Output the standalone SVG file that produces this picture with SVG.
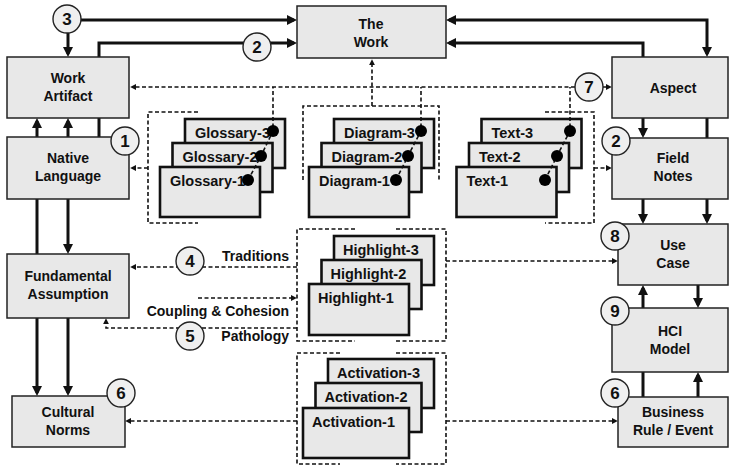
<svg xmlns="http://www.w3.org/2000/svg" width="731" height="467" viewBox="0 0 731 467">
  <style>
    .box { fill: #e8e8e8; stroke: #222; stroke-width: 1.5; }
    .card { fill: #e8e8e8; stroke: #111; stroke-width: 2.6; }
    .lbl { font-family: "Liberation Sans", Arial, sans-serif; font-weight: bold; font-size: 14px; fill: #111; text-anchor: middle; }
    .clbl { font-family: "Liberation Sans", Arial, sans-serif; font-weight: bold; font-size: 14.5px; fill: #111; }
    .side { font-family: "Liberation Sans", Arial, sans-serif; font-weight: bold; font-size: 14px; fill: #111; text-anchor: end; }
    .num { font-family: "Liberation Sans", Arial, sans-serif; font-weight: bold; font-size: 17px; fill: #111; text-anchor: middle; }
    .badge { fill: #efefef; stroke: #222; stroke-width: 1.4; }
    .solid { fill: none; stroke: #111; stroke-width: 3; }
    .dash { fill: none; stroke: #111; stroke-width: 1.6; stroke-dasharray: 4 2.5; }
    .dot { fill: #000; }
  </style>
  <defs>
    <marker id="ah" viewBox="0 0 10 10" refX="7" refY="5" markerWidth="10" markerHeight="10" markerUnits="userSpaceOnUse" orient="auto-start-reverse">
      <path d="M0,0 L10,5 L0,10 z" fill="#111"/>
    </marker>
    <marker id="dh" viewBox="0 0 10 10" refX="7" refY="5" markerWidth="6" markerHeight="6" markerUnits="userSpaceOnUse" orient="auto-start-reverse">
      <path d="M0,0 L10,5 L0,10 z" fill="#111"/>
    </marker>
  </defs>

  <!-- connectors -->
  <g id="connectors">
    <!-- solid links, left column -->
    <path class="solid" d="M81,20 H294" marker-end="url(#ah)"/>
    <path class="solid" d="M68,33 V54" marker-end="url(#ah)"/>
    <path class="solid" d="M99,137 V43 H294" marker-end="url(#ah)"/>
    <path class="solid" d="M37,137 V121" marker-end="url(#ah)"/>
    <path class="solid" d="M68,137 V121" marker-end="url(#ah)"/>
    <path class="solid" d="M37,199 V393" marker-end="url(#ah)"/>
    <path class="solid" d="M68,199 V251" marker-end="url(#ah)"/>
    <path class="solid" d="M68,318 V393" marker-end="url(#ah)"/>
    <!-- solid links, right column -->
    <path class="solid" d="M449,20 H707 V54" marker-start="url(#ah)" marker-end="url(#ah)"/>
    <path class="solid" d="M643,57 V43 H449" marker-end="url(#ah)"/>
    <path class="solid" d="M643,118 V135" marker-end="url(#ah)"/>
    <path class="solid" d="M707,118 V221" marker-end="url(#ah)"/>
    <path class="solid" d="M643,199 V221" marker-end="url(#ah)"/>
    <path class="solid" d="M643,397 V288" marker-end="url(#ah)"/>
    <path class="solid" d="M698,285 V305" marker-end="url(#ah)"/>
    <path class="solid" d="M698,397 V375" marker-end="url(#ah)"/>

    <!-- dashed trace bus -->
    <path class="dash" d="M575,87 H132" marker-end="url(#dh)"/>
    <path class="dash" d="M603,87 H610" marker-end="url(#dh)"/>
    <path class="dash" d="M372,106 V61" marker-end="url(#dh)"/>
    <!-- glossary bracket -->
    <path class="dash" d="M198,112 H148 V223 H198"/>
    <path class="dash" d="M148,168 H132" marker-end="url(#dh)"/>
    <!-- diagram bracket -->
    <path class="dash" d="M303,180 V106 H439 V180"/>
    <!-- text bracket -->
    <path class="dash" d="M545,112 H594 V223 H545"/>
    <path class="dash" d="M594,168 H610" marker-end="url(#dh)"/>
    <!-- highlight brackets -->
    <path class="dash" d="M355,229 H297 V341 H355"/>
    <path class="dash" d="M396,229 H446 V341 H396"/>
    <path class="dash" d="M297,267 H132" marker-end="url(#dh)"/>
    <path class="dash" d="M198,298 H295" marker-end="url(#dh)"/>
    <path class="dash" d="M297,328 H106 V320" marker-end="url(#dh)"/>
    <path class="dash" d="M446,261 H616" marker-end="url(#dh)"/>
    <!-- activation brackets -->
    <path class="dash" d="M340,353 H297 V464 H340"/>
    <path class="dash" d="M396,353 H446 V464 H396"/>
    <path class="dash" d="M297,421 H127" marker-end="url(#dh)"/>
    <path class="dash" d="M446,421 H616" marker-end="url(#dh)"/>
  </g>

  <!-- main nodes -->
  <g id="the-work">
    <rect class="box" x="297" y="6" width="149" height="52"/>
    <text class="lbl" x="371" y="29">The</text>
    <text class="lbl" x="371" y="47">Work</text>
  </g>
  <g id="work-artifact">
    <rect class="box" x="7" y="57" width="122" height="61"/>
    <text class="lbl" x="68" y="83">Work</text>
    <text class="lbl" x="68" y="101">Artifact</text>
  </g>
  <g id="native-language">
    <rect class="box" x="7" y="137" width="122" height="62"/>
    <text class="lbl" x="68" y="163">Native</text>
    <text class="lbl" x="68" y="181">Language</text>
  </g>
  <g id="fundamental-assumption">
    <rect class="box" x="7" y="254" width="122" height="64"/>
    <text class="lbl" x="68" y="281">Fundamental</text>
    <text class="lbl" x="68" y="299">Assumption</text>
  </g>
  <g id="cultural-norms">
    <rect class="box" x="12" y="396" width="113" height="51"/>
    <text class="lbl" x="68" y="417">Cultural</text>
    <text class="lbl" x="68" y="435">Norms</text>
  </g>
  <g id="aspect">
    <rect class="box" x="612" y="57" width="116" height="61"/>
    <text class="lbl" x="673" y="93">Aspect</text>
  </g>
  <g id="field-notes">
    <rect class="box" x="612" y="138" width="116" height="61"/>
    <text class="lbl" x="673" y="163">Field</text>
    <text class="lbl" x="673" y="181">Notes</text>
  </g>
  <g id="use-case">
    <rect class="box" x="618" y="224" width="110" height="61"/>
    <text class="lbl" x="673" y="250">Use</text>
    <text class="lbl" x="673" y="268">Case</text>
  </g>
  <g id="hci-model">
    <rect class="box" x="612" y="308" width="116" height="64"/>
    <text class="lbl" x="670" y="336">HCI</text>
    <text class="lbl" x="670" y="354">Model</text>
  </g>
  <g id="business-rule">
    <rect class="box" x="618" y="397" width="110" height="50"/>
    <text class="lbl" x="673" y="417">Business</text>
    <text class="lbl" x="673" y="435">Rule / Event</text>
  </g>

  <!-- stacked documents -->
  <g id="glossary-stack">
    <rect class="card" x="185" y="119" width="100" height="49"/>
    <text class="clbl" x="195" y="138">Glossary-3</text>
    <rect class="card" x="172.5" y="143" width="100" height="49"/>
    <text class="clbl" x="182.5" y="162">Glossary-2</text>
    <rect class="card" x="160" y="167" width="100" height="50"/>
    <text class="clbl" x="170" y="186">Glossary-1</text>
  </g>
  <g id="diagram-stack">
    <rect class="card" x="334" y="119" width="100" height="49"/>
    <text class="clbl" x="344" y="138">Diagram-3</text>
    <rect class="card" x="321.5" y="143" width="100" height="49"/>
    <text class="clbl" x="331.5" y="162">Diagram-2</text>
    <rect class="card" x="309" y="167" width="100" height="50"/>
    <text class="clbl" x="319" y="186">Diagram-1</text>
  </g>
  <g id="text-stack">
    <rect class="card" x="481.5" y="119" width="100" height="49"/>
    <text class="clbl" x="491.5" y="138">Text-3</text>
    <rect class="card" x="469" y="143" width="100" height="49"/>
    <text class="clbl" x="479" y="162">Text-2</text>
    <rect class="card" x="456.5" y="167" width="100" height="50"/>
    <text class="clbl" x="466.5" y="186">Text-1</text>
  </g>
  <g id="highlight-stack">
    <rect class="card" x="334" y="236" width="100" height="49"/>
    <text class="clbl" x="343" y="255">Highlight-3</text>
    <rect class="card" x="321.5" y="260" width="100" height="49"/>
    <text class="clbl" x="330.5" y="279">Highlight-2</text>
    <rect class="card" x="309" y="284" width="100" height="51"/>
    <text class="clbl" x="318" y="303">Highlight-1</text>
  </g>
  <g id="activation-stack">
    <rect class="card" x="328" y="359" width="106" height="49"/>
    <text class="clbl" x="337" y="378">Activation-3</text>
    <rect class="card" x="315.5" y="383" width="106" height="49"/>
    <text class="clbl" x="324.5" y="402">Activation-2</text>
    <rect class="card" x="303" y="408" width="106" height="50"/>
    <text class="clbl" x="312" y="427">Activation-1</text>
  </g>

  <!-- trace links between document versions -->
  <g id="version-links">
    <path class="dash" d="M248,180 L261,156 L273,131 V87"/>
    <path class="dash" d="M396,180 L408,156 L421,131 V87"/>
    <path class="dash" d="M545,180 L557,156 L570,131 V87"/>
    <circle class="dot" cx="273" cy="131" r="6"/>
    <circle class="dot" cx="261" cy="156" r="6"/>
    <circle class="dot" cx="248" cy="180" r="6"/>
    <circle class="dot" cx="421" cy="131" r="6"/>
    <circle class="dot" cx="408" cy="156" r="6"/>
    <circle class="dot" cx="396" cy="180" r="6"/>
    <circle class="dot" cx="570" cy="131" r="6"/>
    <circle class="dot" cx="557" cy="156" r="6"/>
    <circle class="dot" cx="545" cy="180" r="6"/>
  </g>

  <!-- side labels -->
  <g id="relation-labels">
    <text class="side" x="289" y="261">Traditions</text>
    <text class="side" x="289" y="316">Coupling &amp; Cohesion</text>
    <text class="side" x="289" y="341">Pathology</text>
  </g>

  <!-- numbered badges -->
  <g id="badges">
    <g id="badge-3"><circle class="badge" cx="67" cy="19" r="14"/><text class="num" x="67" y="25">3</text></g>
    <g id="badge-2a"><circle class="badge" cx="257" cy="47" r="14"/><text class="num" x="257" y="53">2</text></g>
    <g id="badge-1"><circle class="badge" cx="125" cy="141" r="14"/><text class="num" x="125" y="147">1</text></g>
    <g id="badge-7"><circle class="badge" cx="589" cy="87" r="14"/><text class="num" x="589" y="93">7</text></g>
    <g id="badge-2b"><circle class="badge" cx="616" cy="141" r="14"/><text class="num" x="616" y="147">2</text></g>
    <g id="badge-8"><circle class="badge" cx="615" cy="236" r="14"/><text class="num" x="615" y="242">8</text></g>
    <g id="badge-9"><circle class="badge" cx="615" cy="311" r="14"/><text class="num" x="615" y="317">9</text></g>
    <g id="badge-6b"><circle class="badge" cx="615" cy="393" r="14"/><text class="num" x="615" y="399">6</text></g>
    <g id="badge-4"><circle class="badge" cx="190" cy="261" r="14"/><text class="num" x="190" y="267">4</text></g>
    <g id="badge-5"><circle class="badge" cx="190" cy="336" r="14"/><text class="num" x="190" y="342">5</text></g>
    <g id="badge-6a"><circle class="badge" cx="121" cy="393" r="14"/><text class="num" x="121" y="399">6</text></g>
  </g>
</svg>
